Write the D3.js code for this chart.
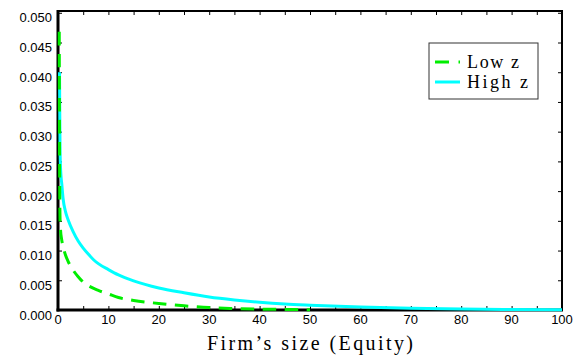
<!DOCTYPE html>
<html>
<head>
<meta charset="utf-8">
<script src="https://cdn.jsdelivr.net/npm/d3@7"></script>
<style>
  html, body { margin: 0; padding: 0; background: #fff; }
  svg { display: block; }
</style>
</head>
<body>
<svg id="chart" width="578" height="361"></svg>
<script>
// ---- Data ----
const lowZ_x  = [0.25, 0.28, 0.32, 0.4, 0.5, 0.7, 1, 1.5, 2, 3, 4, 5, 6, 8, 10, 12, 15, 20, 25, 30, 35, 40, 45, 50];
const lowZ_y  = [0.0468, 0.035, 0.024, 0.0155, 0.0135, 0.0120, 0.0107, 0.0092, 0.0082, 0.0067, 0.0056, 0.0047, 0.0041, 0.0033, 0.0027, 0.0021, 0.0016, 0.0011, 0.0007, 0.0004, 0.00025, 0.00015, 0.0001, 0.00005];
const highZ_x = [0.3, 0.35, 0.4, 0.5, 0.6, 0.75, 1, 1.5, 2, 3, 4, 5, 6, 7, 8, 10, 12, 15, 20, 25, 30, 35, 40, 45, 50, 60, 70, 80, 90, 100];
const highZ_y = [0.0400, 0.0330, 0.0275, 0.0240, 0.0225, 0.0212, 0.0188, 0.0165, 0.0152, 0.0132, 0.0116, 0.0104, 0.0094, 0.0085, 0.0078, 0.0068, 0.0059, 0.0049, 0.0037, 0.0029, 0.0022, 0.0017, 0.0013, 0.0010, 0.0008, 0.0005, 0.0003, 0.00015, 0.00008, 0.00004];
const xTickLabels = [0, 10, 20, 30, 40, 50, 60, 70, 80, 90, 100];
const xMinorTicks = d3.range(0, 101, 5);
const yTickLabels = ["0.000","0.005","0.010","0.015","0.020","0.025","0.030","0.035","0.040","0.045","0.050"];
const seriesNames = ["Low z", "High z"];
const seriesColors = ["#00ee00", "#00ffff"];
const xTitle = "Firm\u2019s size (Equity)";

// ---- Layout ----
const L = 58, R = 562, T = 11, B = 310;
const svg = d3.select("#chart");
const x = d3.scaleLinear().domain([0, 100]).range([L, R]);
const y = d3.scaleLinear().domain([0, 0.0503]).range([B, T]);
const yTickVals = yTickLabels.map(Number);

// frame
svg.append("rect").attr("x", L).attr("y", T).attr("width", R - L).attr("height", B - T)
  .attr("fill", "none").attr("stroke", "#000").attr("stroke-width", 2);

// axes via d3 (inward ticks)
const gB = svg.append("g").attr("transform", `translate(0,${B})`)
  .call(d3.axisBottom(x).tickValues(xMinorTicks).tickSize(-4).tickFormat(""));
const gT = svg.append("g").attr("transform", `translate(0,${T})`)
  .call(d3.axisTop(x).tickValues(xMinorTicks).tickSize(-4).tickFormat(""));
const gL = svg.append("g").attr("transform", `translate(${L},0)`)
  .call(d3.axisLeft(y).tickValues(yTickVals).tickSize(-4).tickFormat(""));
const gR = svg.append("g").attr("transform", `translate(${R},0)`)
  .call(d3.axisRight(y).tickValues(yTickVals).tickSize(-4).tickFormat(""));
[gB, gT, gL, gR].forEach(g => {
  g.select(".domain").remove();
  g.selectAll(".tick line").attr("stroke", "#000").attr("stroke-width", 1);
});

// thick left & bottom axis lines
svg.append("line").attr("x1", L).attr("x2", L).attr("y1", T - 1).attr("y2", B + 1.5)
  .attr("stroke", "#000").attr("stroke-width", 3);
svg.append("line").attr("x1", L - 1.5).attr("x2", R + 1).attr("y1", B).attr("y2", B)
  .attr("stroke", "#000").attr("stroke-width", 3);

// tick labels
svg.append("g").selectAll("text").data(xTickLabels).join("text")
  .attr("x", d => x(d)).attr("y", B + 13.5)
  .attr("text-anchor", "middle")
  .attr("font-family", "'Liberation Sans', Arial, sans-serif").attr("font-size", 13)
  .text(d => d);
svg.append("g").selectAll("text").data(yTickLabels).join("text")
  .attr("x", 52).attr("y", d => y(+d) + 9.5)
  .attr("text-anchor", "end")
  .attr("font-family", "'Liberation Sans', Arial, sans-serif").attr("font-size", 13)
  .text(d => d);

// x title
svg.append("text").attr("x", 310).attr("y", 350).attr("text-anchor", "middle")
  .attr("font-family", "'Liberation Serif', 'Times New Roman', serif").attr("font-size", 20)
  .attr("textLength", 206).attr("lengthAdjust", "spacing")
  .text(xTitle);

// curves
const line = d3.line().x(d => x(d[0])).y(d => y(d[1])).curve(d3.curveMonotoneX);
const lowData = lowZ_x.map((v, i) => [v, lowZ_y[i]]);
const highData = highZ_x.map((v, i) => [v, highZ_y[i]]);

svg.append("path").datum(highData).attr("d", line)
  .attr("fill", "none").attr("stroke", seriesColors[1]).attr("stroke-width", 3);
svg.append("path").datum(lowData).attr("d", line)
  .attr("fill", "none").attr("stroke", seriesColors[0]).attr("stroke-width", 3)
  .attr("stroke-dasharray", "13.5,8.5");

// legend
const lg = svg.append("g");
lg.append("rect").attr("x", 429).attr("y", 43).attr("width", 109).attr("height", 56)
  .attr("fill", "#fff").attr("stroke", "#333").attr("stroke-width", 1);
const legY = [62, 82];
const legW = [52, 61];
seriesNames.forEach((name, i) => {
  const l = lg.append("line").attr("x1", 435).attr("x2", 460).attr("y1", legY[i]).attr("y2", legY[i])
    .attr("stroke", seriesColors[i]).attr("stroke-width", 3);
  if (i === 0) l.attr("stroke-dasharray", "14,9.5");
  lg.append("text").attr("x", 467).attr("y", legY[i] + 6)
    .attr("font-family", "'Liberation Serif', 'Times New Roman', serif").attr("font-size", 18)
    .attr("textLength", legW[i]).attr("lengthAdjust", "spacing")
    .text(name);
});
</script>
</body>
</html>
